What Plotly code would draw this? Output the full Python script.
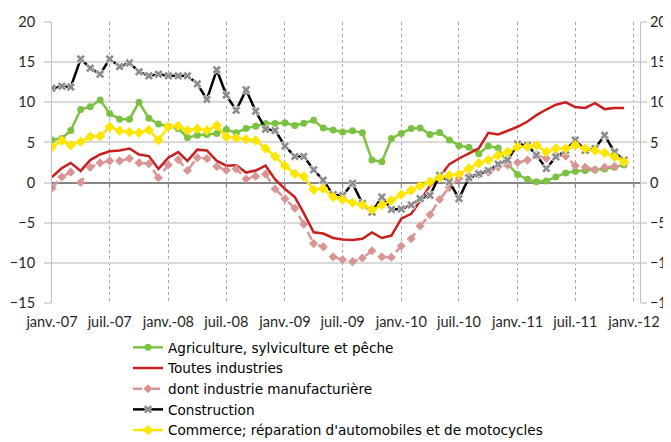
import pandas as pd
import plotly.graph_objects as go

months = pd.date_range("2007-01-01", "2011-12-01", freq="MS")

agriculture = [5.3, 5.5, 6.5, 9.1, 9.45, 10.3, 8.6, 7.9, 7.9, 10.0, 8.0, 7.3,
               7.0, 6.75, 5.6, 5.9, 6.0, 6.1, 6.6, 6.2, 6.75, 7.0, 7.35, 7.35,
               7.45, 7.1, 7.4, 7.75, 6.8, 6.55, 6.3, 6.45, 6.2, 2.8, 2.6, 5.5,
               6.1, 6.75, 6.8, 6.0, 6.25, 5.3, 4.6, 4.4, 3.6, 4.55, 4.3, 2.3,
               1.0, 0.4, 0.1, 0.2, 0.7, 1.2, 1.4, 1.5, 1.6, 1.7, 1.9, 2.2]

toutes = [0.7, 1.8, 2.45, 1.45, 2.8, 3.5, 3.9, 4.0, 4.25, 3.5, 3.3, 1.7,
          3.1, 3.8, 2.7, 4.1, 4.0, 2.7, 2.1, 2.15, 1.25, 1.5, 2.1, 0.4,
          -0.8, -1.8, -3.8, -6.2, -6.35, -6.9, -7.1, -7.15, -7.0, -6.2, -6.9, -6.6,
          -4.5, -3.9, -2.3, -0.4, 0.7, 2.3, 3.0, 3.6, 4.25, 6.2, 6.0, 6.45,
          6.95, 7.6, 8.4, 9.1, 9.7, 10.0, 9.4, 9.3, 9.9, 9.15, 9.3, 9.3]

manufacturiere = [-0.7, 0.7, 1.3, 0.0, 1.9, 2.45, 2.7, 2.7, 3.0, 2.45, 2.35, 0.6,
                  2.2, 2.85, 1.5, 3.1, 3.0, 2.0, 1.55, 1.7, 0.45, 0.8, 1.05, -0.8,
                  -2.0, -3.2, -5.2, -7.6, -8.0, -9.25, -9.6, -9.85, -9.4, -8.5, -9.25, -9.3,
                  -7.9, -7.0, -5.4, -4.0, -2.1, -0.6, 0.5, 0.8, 1.0, 1.3, 1.9, 2.2,
                  2.5, 2.8, 3.4, 3.0, 3.4, 3.3, 2.1, 1.9, 1.6, 1.9, 2.0, 2.4]

construction = [11.75, 12.0, 11.9, 15.4, 14.25, 13.5, 15.4, 14.45, 14.9, 13.8, 13.3, 13.5,
                13.3, 13.3, 13.3, 12.3, 10.35, 14.05, 10.9, 9.0, 11.55, 8.9, 6.65, 6.5,
                4.55, 3.25, 3.25, 1.6, 0.3, -1.5, -1.6, -0.1, -2.6, -3.7, -1.8, -3.35,
                -3.3, -2.8, -2.0, -1.6, 0.9, 0.1, -2.0, 0.6, 1.1, 1.5, 2.3, 2.8,
                4.8, 4.65, 3.4, 1.75, 3.2, 4.0, 5.3, 4.0, 4.25, 5.9, 3.8, 2.8]

commerce = [4.45, 5.2, 4.65, 5.1, 5.7, 5.8, 6.95, 6.45, 6.3, 6.2, 6.55, 5.3,
            6.95, 7.05, 6.5, 6.7, 6.5, 7.1, 5.7, 5.55, 5.4, 5.25, 4.25, 3.25,
            2.05, 1.1, 0.75, -0.9, -0.75, -1.8, -2.1, -2.5, -2.8, -3.4, -2.8, -2.2,
            -1.5, -0.95, -0.4, 0.1, 0.6, 0.9, 1.05, 1.75, 2.4, 2.8, 3.4, 3.8,
            4.45, 4.45, 4.65, 3.8, 4.25, 4.25, 4.65, 4.25, 4.0, 3.7, 3.2, 2.6]

tick_dates = ["2007-01-01", "2007-07-01", "2008-01-01", "2008-07-01", "2009-01-01",
              "2009-07-01", "2010-01-01", "2010-07-01", "2011-01-01", "2011-07-01",
              "2012-01-01"]
tick_labels = ["janv.-07", "juil.-07", "janv.-08", "juil.-08", "janv.-09",
               "juil.-09", "janv.-10", "juil.-10", "janv.-11", "juil.-11", "janv.-12"]
y_ticks = [-15, -10, -5, 0, 5, 10, 15, 20]

FONT = "Lato"
# the page body adds an 8px offset; plot area is kept at page px x 52..640, y 22..303
OFF = 8
PL, PR, PT, PB = 52, 640, 22, 303
PW, PH = PR - PL, PB - PT


def px(xpage):
    return (xpage - PL) / PW


def py(ypage):
    return (PB - ypage) / PH


fig = go.Figure()

fig.add_trace(go.Scatter(x=months, y=agriculture, name="Agriculture, sylviculture et pêche",
                         mode="lines+markers", legendgroup="a",
                         line=dict(color="#7CC242", width=2.5),
                         marker=dict(symbol="circle", size=7, color="#7CC242")))
fig.add_trace(go.Scatter(x=months, y=toutes, name="Toutes industries",
                         mode="lines", legendgroup="b",
                         line=dict(color="#C8201F", width=2.5)))
fig.add_trace(go.Scatter(x=months, y=manufacturiere, name="dont industrie manufacturière",
                         mode="lines+markers", legendgroup="c",
                         line=dict(color="#D99594", width=2.5, dash="dash"),
                         marker=dict(symbol="diamond", size=7, color="#D99594")))
fig.add_trace(go.Scatter(x=months, y=construction, name="Construction",
                         mode="lines+markers", legendgroup="d",
                         line=dict(color="#000000", width=2.5),
                         marker=dict(symbol="x", size=8, color="#8C8C8C",
                                     line=dict(color="#FFFFFF", width=0.8))))
fig.add_trace(go.Scatter(x=months, y=commerce, name="Commerce; réparation d'automobiles et de motocycles",
                         mode="lines+markers", legendgroup="e",
                         line=dict(color="#FFE600", width=2.5),
                         marker=dict(symbol="diamond", size=8, color="#FFE600")))
# invisible trace to carry the right-hand axis
fig.add_trace(go.Scatter(x=months, y=toutes, yaxis="y2", mode="lines",
                         line=dict(width=0), opacity=0, showlegend=False,
                         hoverinfo="skip"))

shapes = []
for d in tick_dates:
    shapes.append(dict(type="line", xref="x", yref="y", x0=d, x1=d, y0=0, y1=-0.75,
                       line=dict(color="#868686", width=1)))
# outer chart border
shapes.append(dict(type="rect", xref="paper", yref="paper",
                   x0=px(7), x1=px(720), y0=py(480), y1=py(6),
                   line=dict(color="#D9D9D9", width=1.5), layer="below"))

axis_font = dict(family=FONT, size=14.5, color="#262626")

fig.update_layout(
    width=671 - OFF, height=442 - OFF,
    margin=dict(l=PL - OFF, r=671 - PR, t=PT - OFF, b=442 - PB, autoexpand=False),
    paper_bgcolor="white", plot_bgcolor="white",
    showlegend=True,
    shapes=shapes,
    xaxis=dict(type="date", range=["2007-01-01", "2012-01-20"],
               tickvals=tick_dates, ticktext=tick_labels, tickfont=axis_font,
               showgrid=True, gridcolor="#A6A6A6", griddash="dot", gridwidth=1,
               ticks="outside", ticklen=6, tickcolor="rgba(0,0,0,0)",
               tickangle=0, automargin=False,
               showline=False, zeroline=False),
    yaxis=dict(range=[-15, 20], tickvals=y_ticks, tickfont=axis_font,
               showgrid=True, gridcolor="#D9D9D9", gridwidth=1.5,
               zeroline=True, zerolinecolor="#868686", zerolinewidth=1.5,
               showline=True, linecolor="#BFBFBF", linewidth=1, automargin=False,
               ticks="outside", ticklen=7, tickcolor="#D9D9D9", tickwidth=1.5,
               ticklabelstandoff=6),
    yaxis2=dict(range=[-15, 20], tickvals=y_ticks, tickfont=axis_font,
                overlaying="y", side="right", showgrid=False, zeroline=False,
                showline=True, linecolor="#BFBFBF", linewidth=1, automargin=False,
                ticks="outside", ticklen=6, tickcolor="#D9D9D9", tickwidth=1.5),
    legend=dict(x=px(128), y=py(332),
                xanchor="left", yanchor="top", bgcolor="rgba(0,0,0,0)",
                font=dict(family="DejaVu Sans", size=13.6, color="#000000"),
                tracegroupgap=0, itemwidth=30),
)

fig.write_html("out.html")
